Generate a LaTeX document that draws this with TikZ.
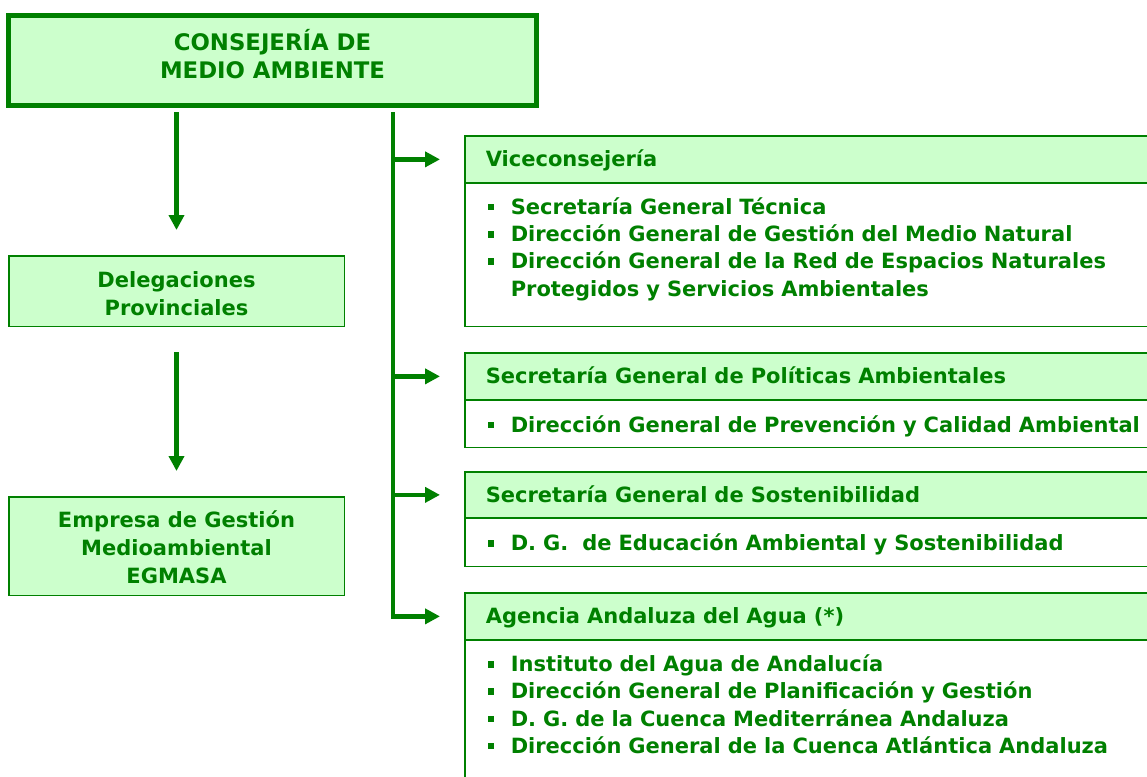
\documentclass[tikz,border=0pt]{standalone}
\usepackage{fontspec}
\setmainfont{DejaVu Sans}
\usepackage{xcolor}
\usepackage{tikz}
\usetikzlibrary{positioning,arrows.meta,calc}
\definecolor{dkgreen}{RGB}{0,128,0}
\definecolor{ltgreen}{RGB}{204,255,204}
\newcommand\topfnt{\fontsize{22.8}{28}\selectfont\bfseries}
\newcommand\boxfnt{\fontsize{21}{28}\selectfont\bfseries}
\newcommand\listfnt{\fontsize{21}{27.3}\selectfont\bfseries}
\newcommand\hstr[1]{\rule{0pt}{#1pt}}
\newcommand\dstr[1]{\rule[-#1pt]{0pt}{#1pt}}
\newcommand\itm{\makebox[23pt][l]{\rule[4pt]{6.5pt}{6.5pt}}}
\newcommand\cnt{\makebox[23pt]{}}
\tikzset{
    topbox/.style={rectangle,draw=dkgreen,line width=5pt,fill=ltgreen,
                   text=dkgreen,minimum width=528pt,minimum height=90pt,
                   inner sep=0pt,outer sep=0pt,align=center,font=\topfnt},
    sidebox/.style={rectangle,draw=dkgreen,line width=1.5pt,fill=ltgreen,
                    text=dkgreen,minimum width=335.5pt,inner sep=0pt,
                    outer sep=0pt,align=center,font=\boxfnt},
    headbox/.style={rectangle,draw=dkgreen,line width=1.5pt,fill=ltgreen,
                    text=dkgreen,anchor=north west,minimum height=47.25pt,
                    text width=658pt,inner xsep=21pt,inner ysep=0pt,
                    outer sep=0pt,align=left,font=\boxfnt,
                    text height=15.2pt,text depth=0pt},
    listbox/.style={rectangle,draw=dkgreen,line width=1.5pt,fill=white,
                    text=dkgreen,anchor=north west,text width=654pt,
                    inner xsep=23pt,inner ysep=0pt,outer sep=0pt,
                    align=left,font=\listfnt},
    link/.style={-{Triangle[length=15pt,width=15pt]},draw=dkgreen,
                 line width=4.5pt},
}
\begin{document}
\begin{tikzpicture}[x=1pt,y=-1pt]
\path[use as bounding box,fill=white] (0,0) rectangle (1147,776);
\clip (0,0) rectangle (1147,776);

\node[topbox] (top) at (272.5,60.5)
  {\hstr{22}CONSEJERÍA DE\\MEDIO AMBIENTE\dstr{15}};
\node[sidebox,minimum height=70.5pt] (dele) at (176.5,291)
  {\hstr{22}Delegaciones\\Provinciales};
\node[sidebox,minimum height=98.5pt] (emp) at (176.5,546)
  {\hstr{22}Empresa de Gestión\\Medioambiental\\EGMASA\dstr{4}};

\node[headbox] (vice) at (464.75,135.75) {Viceconsejería};
\node[listbox,minimum height=143.25pt] (vicelist) at (vice.south west)
  {\noindent\hstr{18}\itm Secretaría General Técnica\\
   \itm Dirección General de Gestión del Medio Natural\\
   \itm Dirección General de la Red de Espacios Naturales\\
   \cnt Protegidos y Servicios Ambientales\dstr{16.7}};

\node[headbox] (pol) at (464.75,352.75) {Secretaría General de Políticas Ambientales};
\node[listbox,minimum height=47.25pt,text height=16.8pt,text depth=0pt]
  (pollist) at (pol.south west)
  {\noindent\itm Dirección General de Prevención y Calidad Ambiental};

\node[headbox,minimum height=46.25pt] (sos) at (464.75,471.75) {Secretaría General de Sostenibilidad};
\node[listbox,minimum height=48.25pt,text height=16.8pt,text depth=0pt]
  (soslist) at (sos.south west)
  {\noindent\itm D.~G.\ \ de Educación Ambiental y Sostenibilidad};

\node[headbox] (agua) at (464.75,592.75) {Agencia Andaluza del Agua (*)};
\node[listbox,minimum height=170pt] (agualist) at (agua.south west)
  {\noindent\hstr{18}\itm Instituto del Agua de Andalucía\\
   \itm Dirección General de Planificación y Gestión\\
   \itm D. G. de la Cuenca Mediterránea Andaluza\\
   \itm Dirección General de la Cuenca Atlántica Andaluza\dstr{43}};

\coordinate (trunk) at (393,112);
\draw[link,shorten <=6.5pt,shorten >=25.75pt] (top.south -| dele) -- (dele);
\draw[link,shorten <=25.75pt,shorten >=25.75pt] (dele) -- (emp);
\draw[link,shorten >=24.75pt] (trunk) |- (agua);
\draw[link,shorten >=24.75pt] (trunk |- vice) -- (vice);
\draw[link,shorten >=24.75pt] (trunk |- pol) -- (pol);
\draw[link,shorten >=24.75pt] (trunk |- sos) -- (sos);
\end{tikzpicture}
\end{document}
